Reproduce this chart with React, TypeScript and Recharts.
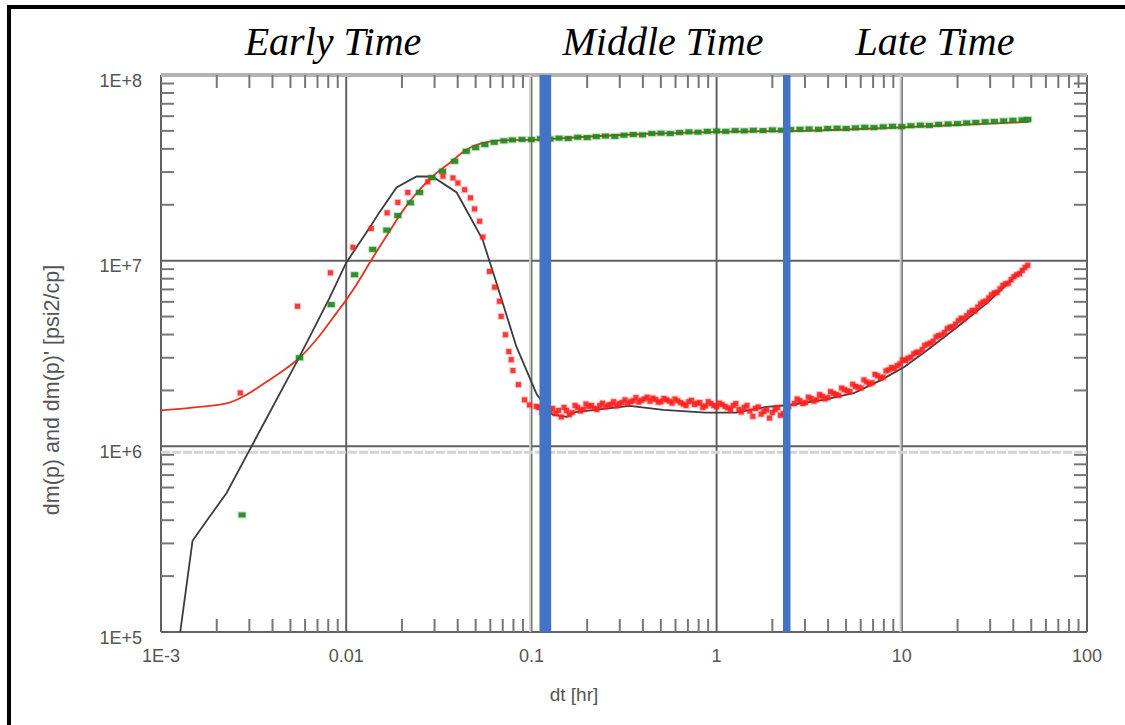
import {
  ComposedChart,
  Line,
  Scatter,
  XAxis,
  YAxis,
  CartesianGrid,
  ReferenceArea,
  ReferenceLine,
} from 'recharts';

const X_TICKS = [0.001, 0.01, 0.1, 1, 10, 100];
const X_TICK_LABELS = ['1E-3', '0.01', '0.1', '1', '10', '100'];
const Y_TICKS = [1e5, 1e6, 1e7, 1e8];
const Y_TICK_LABELS = ['1E+5', '1E+6', '1E+7', '1E+8'];
const MINOR_STEPS = [2, 3, 4, 5, 6, 7, 8, 9];

const X_MINOR = X_TICKS.slice(0, -1).flatMap((d) => MINOR_STEPS.map((m) => d * m));
const Y_MINOR = Y_TICKS.slice(0, -1).flatMap((d) => MINOR_STEPS.map((m) => d * m));
// minor tick length (~13px) expressed as a log-axis factor
const TICK_FACTOR = 1.175;

// flow regime markers (dt in hr)
const MIDDLE_BAND = [0.1106, 0.1279];
const LATE_BAND = [2.283, 2.506];
const FAINT_LINE_Y = 9.3e5;

// model dm(p) (red line)
const modelPT = [0.001, 0.00161, 0.00234, 0.00288, 0.0037, 0.00455, 0.0056, 0.00689, 0.00883, 0.01, 0.01133, 0.01394, 0.01714, 0.02024, 0.02388, 0.02938, 0.0362, 0.0445, 0.0594, 0.0762, 0.109, 0.1775, 0.466, 1.23, 3.22, 8.47, 22.3, 48.9];
const modelPV = [1.56e6, 1.63e6, 1.72e6, 1.89e6, 2.22e6, 2.55e6, 3.0e6, 3.75e6, 5.2e6, 6.15e6, 7.4e6, 1.04e7, 1.44e7, 1.86e7, 2.3e7, 2.85e7, 3.36e7, 3.96e7, 4.38e7, 4.46e7, 4.49e7, 4.62e7, 4.84e7, 4.96e7, 5.02e7, 5.19e7, 5.41e7, 5.6e7];

// model dm(p)' (black line)
const modelDT = [0.00127, 0.00148, 0.00178, 0.00226, 0.00301, 0.0056, 0.00813, 0.01, 0.0134, 0.0151, 0.0187, 0.024, 0.0292, 0.0395, 0.0545, 0.0647, 0.083, 0.107, 0.13, 0.155, 0.173, 0.339, 0.516, 0.871, 1.28, 1.86, 2.48, 3.78, 5.55, 7.76, 10.35, 13.8, 20.0, 29.0, 46.0];
const modelDV = [1.0e5, 3.1e5, 4.02e5, 5.61e5, 9.57e5, 3.04e6, 6.3e6, 9.75e6, 1.51e7, 1.82e7, 2.48e7, 2.84e7, 2.84e7, 2.33e7, 1.3e7, 7.6e6, 3.44e6, 1.9e6, 1.48e6, 1.44e6, 1.53e6, 1.65e6, 1.57e6, 1.52e6, 1.52e6, 1.63e6, 1.67e6, 1.78e6, 1.94e6, 2.28e6, 2.68e6, 3.31e6, 4.41e6, 5.94e6, 9.17e6];

// measured dm(p) (green points)
const pressureEarly: [number, number][] = [
  [0.00274, 4.27e5], [0.0056, 3.0e6], [0.0083, 5.8e6], [0.0111, 8.4e6], [0.0139, 1.15e7],
  [0.01656, 1.46e7], [0.019, 1.75e7], [0.0222, 2.05e7], [0.0249, 2.33e7], [0.029, 2.8e7],
  [0.0331, 3.03e7], [0.0385, 3.43e7], [0.0445, 3.88e7],
];
const pressureLateT = [0.05, 0.056, 0.063, 0.071, 0.079, 0.089, 0.1, 0.112, 0.126, 0.141, 0.158, 0.178, 0.2, 0.224, 0.251, 0.282, 0.316, 0.355, 0.398, 0.447, 0.501, 0.562, 0.631, 0.708, 0.794, 0.891, 1.0, 1.12, 1.26, 1.41, 1.58, 1.78, 2.0, 2.24, 2.51, 2.82, 3.16, 3.55, 3.98, 4.47, 5.01, 5.62, 6.31, 7.08, 7.94, 8.91, 10.0, 11.2, 12.6, 14.1, 15.8, 17.8, 20.0, 22.4, 25.1, 28.2, 31.6, 35.5, 39.8, 44.7, 47.9];
const pressureLateV = [4.06, 4.22, 4.34, 4.42, 4.47, 4.5, 4.49, 4.54, 4.52, 4.57, 4.55, 4.62, 4.6, 4.66, 4.69, 4.67, 4.74, 4.78, 4.76, 4.84, 4.86, 4.84, 4.9, 4.94, 4.92, 4.97, 4.99, 4.97, 5.02, 5.0, 5.04, 5.02, 5.06, 5.04, 5.08, 5.1, 5.12, 5.1, 5.15, 5.17, 5.15, 5.19, 5.23, 5.21, 5.26, 5.29, 5.27, 5.33, 5.37, 5.35, 5.42, 5.45, 5.47, 5.52, 5.55, 5.6, 5.62, 5.66, 5.7, 5.73, 5.76]; // x1E+7

// measured dm(p)' (red points)
const derivEarly: [number, number][] = [
  [0.00268, 1.94e6], [0.00546, 5.68e6], [0.00822, 8.6e6], [0.01087, 1.18e7], [0.01365, 1.49e7],
  [0.01663, 1.81e7], [0.019, 2.06e7], [0.0215, 2.33e7], [0.0276, 2.66e7], [0.0333, 2.85e7],
  [0.0377, 2.79e7], [0.0401, 2.62e7], [0.0436, 2.41e7], [0.0469, 2.18e7], [0.0493, 1.9e7],
  [0.0525, 1.63e7], [0.0547, 1.34e7], [0.0594, 8.75e6], [0.0633, 7.2e6], [0.0673, 6.04e6],
  [0.0687, 5.01e6], [0.0724, 3.99e6], [0.0755, 3.24e6], [0.0778, 2.93e6], [0.0795, 2.56e6],
  [0.0851, 2.15e6], [0.0918, 1.78e6], [0.0977, 1.67e6], [0.1062, 1.64e6],
];
const derivMidT = [0.11, 0.118, 0.126, 0.135, 0.145, 0.155, 0.166, 0.178, 0.191, 0.204, 0.219, 0.234, 0.251, 0.269, 0.288, 0.309, 0.331, 0.355, 0.38, 0.407, 0.437, 0.468, 0.501, 0.537, 0.575, 0.617, 0.661, 0.708, 0.759, 0.813, 0.871, 0.933, 1.0, 1.07, 1.15, 1.23, 1.32, 1.41, 1.51, 1.62, 1.74, 1.86, 2.0, 2.14, 2.29, 2.45];
const derivMidV = [1.62, 1.58, 1.55, 1.5, 1.44, 1.56, 1.52, 1.62, 1.58, 1.64, 1.6, 1.66, 1.63, 1.68, 1.65, 1.72, 1.7, 1.76, 1.73, 1.8, 1.75, 1.79, 1.74, 1.78, 1.71, 1.76, 1.69, 1.74, 1.68, 1.72, 1.65, 1.7, 1.63, 1.68, 1.61, 1.66, 1.58, 1.62, 1.55, 1.6, 1.49, 1.57, 1.52, 1.62, 1.5, 1.64]; // x1E+6
const derivMid2T = [0.114, 0.122, 0.13, 0.14, 0.15, 0.16, 0.172, 0.184, 0.197, 0.211, 0.226, 0.242, 0.26, 0.278, 0.298, 0.32, 0.343, 0.367, 0.393, 0.422, 0.452, 0.484, 0.519, 0.556, 0.596, 0.639, 0.684, 0.733, 0.786, 0.842, 0.902, 0.966, 1.035, 1.11, 1.19, 1.27, 1.36, 1.46, 1.57, 1.68, 1.8, 1.93, 2.07, 2.21, 2.37];
const derivMid2V = [1.52, 1.47, 1.6, 1.56, 1.62, 1.48, 1.66, 1.55, 1.69, 1.66, 1.58, 1.71, 1.67, 1.74, 1.7, 1.78, 1.74, 1.83, 1.77, 1.84, 1.82, 1.73, 1.81, 1.75, 1.8, 1.72, 1.66, 1.77, 1.71, 1.62, 1.74, 1.66, 1.71, 1.64, 1.57, 1.7, 1.53, 1.66, 1.45, 1.63, 1.54, 1.42, 1.58, 1.47, 1.55]; // x1E+6
const derivLateT = [2.63, 2.82, 3.02, 3.24, 3.47, 3.72, 3.98, 4.27, 4.57, 4.9, 5.25, 5.62, 6.03, 6.46, 6.92, 7.41, 7.94, 8.51, 9.12, 9.77, 10.5, 11.2, 12.0, 12.9, 13.8, 14.8, 15.8, 17.0, 18.2, 19.5, 20.9, 22.4, 24.0, 25.7, 27.5, 29.5, 31.6, 33.9, 36.3, 38.9, 41.7, 44.7, 47.9];
const derivLateV = [1.7, 1.76, 1.72, 1.81, 1.78, 1.86, 1.83, 1.93, 1.88, 2.02, 1.97, 2.1, 2.06, 2.22, 2.2, 2.4, 2.36, 2.58, 2.62, 2.78, 2.9, 3.02, 3.2, 3.32, 3.55, 3.68, 3.95, 4.1, 4.38, 4.55, 4.9, 5.05, 5.4, 5.62, 6.0, 6.3, 6.7, 7.05, 7.5, 7.9, 8.4, 8.85, 9.45]; // x1E+6
const derivLate2T = [2.72, 2.92, 3.13, 3.35, 3.6, 3.85, 4.12, 4.42, 4.73, 5.07, 5.43, 5.82, 6.24, 6.69, 7.16, 7.67, 8.22, 8.81, 9.44, 10.1, 10.8, 11.6, 12.4, 13.3, 14.3, 15.3, 16.4, 17.6, 18.8, 20.2, 21.6, 23.2, 24.8, 26.6, 28.5, 30.5, 32.7, 35.1, 37.6, 40.3, 43.2, 46.3];
const derivLate2V = [1.8, 1.7, 1.84, 1.75, 1.9, 1.8, 1.97, 1.9, 2.06, 1.99, 2.16, 2.08, 2.28, 2.17, 2.44, 2.33, 2.55, 2.66, 2.72, 2.92, 2.98, 3.15, 3.22, 3.5, 3.6, 3.88, 3.98, 4.3, 4.4, 4.75, 4.85, 5.25, 5.35, 5.85, 6.05, 6.55, 6.75, 7.35, 7.55, 8.2, 8.5, 9.2]; // x1E+6

const zip = (t: number[], v: number[], k = 1) => t.map((x, i) => ({ t: x, v: v[i] * k }));
const fromPairs = (p: [number, number][]) => p.map(([t, v]) => ({ t, v }));

const modelPressure = zip(modelPT, modelPV);
const modelDeriv = zip(modelDT, modelDV);
const pressureData = [...fromPairs(pressureEarly), ...zip(pressureLateT, pressureLateV, 1e7)];
const derivData = [
  ...fromPairs(derivEarly),
  ...zip(derivMidT, derivMidV, 1e6),
  ...zip(derivMid2T, derivMid2V, 1e6),
  ...zip(derivLateT, derivLateV, 1e6),
  ...zip(derivLate2T, derivLate2V, 1e6),
];

const GRID = '#616161';
const MINOR = '#767676';
const LABEL = '#555';
const BLUE = '#4472c4';
const FONT = '"Liberation Sans", Arial, sans-serif';

const square = (color: string, w: number, h: number, op = 1) => (props: any) => {
  const { cx, cy } = props;
  if (cx == null || cy == null) return <g />;
  return (
    <g>
      <rect x={cx - w / 2 - 1} y={cy - h / 2 - 1} width={w + 2} height={h + 2} fill={color} fillOpacity={0.25} />
      <rect x={cx - w / 2} y={cy - h / 2} width={w} height={h} fill={color} fillOpacity={op} />
    </g>
  );
};

const XTick = ({ x, y, payload }: any) => {
  const i = X_TICKS.indexOf(payload.value);
  return (
    <text x={x} y={y + 30} textAnchor="middle" fontSize={18} fill={LABEL} fontFamily={FONT}>
      {X_TICK_LABELS[i]}
    </text>
  );
};

const YTick = ({ x, y, payload }: any) => {
  const i = Y_TICKS.indexOf(payload.value);
  return (
    <text x={x - 19} y={y + 11.5} textAnchor="end" fontSize={18} fill={LABEL} fontFamily={FONT}>
      {Y_TICK_LABELS[i]}
    </text>
  );
};

const titleStyle = {
  position: 'absolute' as const,
  top: 18,
  transform: 'translateX(-50%)',
  fontFamily: '"Liberation Serif", "Times New Roman", serif',
  fontStyle: 'italic',
  fontSize: 40,
  lineHeight: '48px',
  color: '#000',
  whiteSpace: 'nowrap' as const,
};

export default function App() {
  const tickLine = { stroke: MINOR, strokeWidth: 2, ifOverflow: 'visible' as const };
  return (
    <div style={{ position: 'fixed', left: 0, top: 0, width: 1125, height: 725, background: '#fff', overflow: 'hidden' }}>
      <div style={{ position: 'absolute', left: 7, top: 5, width: 1140, height: 760, border: '4px solid #000', boxSizing: 'border-box' }} />
      <div style={{ ...titleStyle, left: 333 }}>Early Time</div>
      <div style={{ ...titleStyle, left: 663 }}>Middle Time</div>
      <div style={{ ...titleStyle, left: 935 }}>Late Time</div>
      <div style={{ position: 'absolute', left: 0, top: 0 }}>
        <ComposedChart width={1125} height={725} margin={{ top: 75, right: 38, bottom: 63, left: 101 }}>
          <CartesianGrid stroke={GRID} strokeWidth={2} />
          <XAxis
            dataKey="t"
            type="number"
            scale="log"
            domain={[0.001, 100]}
            allowDataOverflow
            ticks={X_TICKS}
            interval={0}
            height={30}
            tickSize={0}
            tickMargin={0}
            axisLine={false}
            tickLine={false}
            tick={XTick}
          />
          <YAxis
            dataKey="v"
            type="number"
            scale="log"
            domain={[1e5, 1e8]}
            allowDataOverflow
            ticks={Y_TICKS}
            interval={0}
            width={60}
            tickSize={0}
            tickMargin={0}
            axisLine={false}
            tickLine={false}
            tick={YTick}
          />
          <ReferenceLine y={1e8} stroke="#b3b3b3" strokeWidth={4} />
          <ReferenceLine x={0.0985} stroke="#cfcfcf" strokeWidth={2} />
          <ReferenceLine x={9.85} stroke="#cfcfcf" strokeWidth={2} />
          {X_MINOR.map((m) => (
            <ReferenceLine key={`b${m}`} segment={[{ x: m, y: 1e5 }, { x: m, y: 1e5 * TICK_FACTOR }]} {...tickLine} />
          ))}
          {X_MINOR.map((m) => (
            <ReferenceLine key={`t${m}`} segment={[{ x: m, y: 1e8 / TICK_FACTOR }, { x: m, y: 1e8 }]} {...tickLine} />
          ))}
          {Y_MINOR.map((m) => (
            <ReferenceLine key={`l${m}`} segment={[{ x: 0.001, y: m }, { x: 0.001 * TICK_FACTOR, y: m }]} {...tickLine} />
          ))}
          {Y_MINOR.map((m) => (
            <ReferenceLine key={`r${m}`} segment={[{ x: 100 / TICK_FACTOR, y: m }, { x: 100, y: m }]} {...tickLine} />
          ))}
          <ReferenceLine y={FAINT_LINE_Y} stroke="#d4d4d4" strokeWidth={3} strokeDasharray="9 2" />
          <Scatter data={pressureData} shape={square('#1e8a1e', 7, 5, 0.9)} isAnimationActive={false} />
          <Scatter data={derivData} shape={square('#ff2020', 5, 5, 0.85)} isAnimationActive={false} />
          <Line data={modelPressure} dataKey="v" type="monotone" stroke="#e8321f" strokeWidth={1.8} dot={false} isAnimationActive={false} />
          <Line data={modelDeriv} dataKey="v" type="linear" stroke="#3d3d3d" strokeWidth={1.8} dot={false} isAnimationActive={false} />
          <ReferenceArea x1={MIDDLE_BAND[0]} x2={MIDDLE_BAND[1]} y1={1e5} y2={1e8} fill={BLUE} fillOpacity={1} stroke="none" zIndex={1000} />
          <ReferenceArea x1={LATE_BAND[0]} x2={LATE_BAND[1]} y1={1e5} y2={1e8} fill={BLUE} fillOpacity={1} stroke="none" zIndex={1000} />
        </ComposedChart>
      </div>
      <div style={{ position: 'absolute', left: 574, top: 684, transform: 'translateX(-50%)', fontFamily: FONT, fontSize: 19, color: LABEL, whiteSpace: 'nowrap' }}>
        dt [hr]
      </div>
      <div style={{ position: 'absolute', left: 52, top: 390, transform: 'translate(-50%, -50%) rotate(-90deg)', fontFamily: FONT, fontSize: 21.5, color: LABEL, whiteSpace: 'nowrap' }}>
        dm(p) and dm(p)' [psi2/cp]
      </div>
    </div>
  );
}
